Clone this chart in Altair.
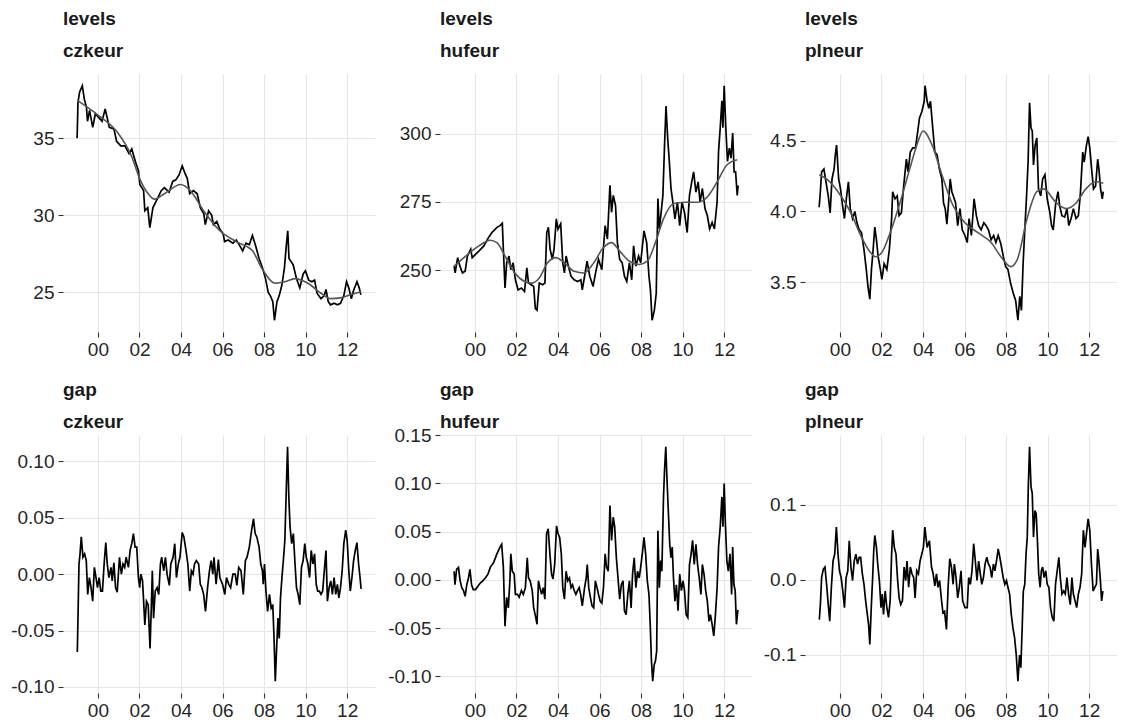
import altair as alt
import pandas as pd

# ---------------- levels: czkeur ----------------
cz_t = [1999.00, 1999.04, 1999.12, 1999.25, 1999.35, 1999.45, 1999.50, 1999.60, 1999.75, 1999.88,
        2000.00, 2000.20, 2000.35, 2000.55, 2000.77, 2000.90, 2001.10, 2001.30, 2001.50, 2001.63,
        2001.80, 2001.95, 2002.02, 2002.20, 2002.26, 2002.40, 2002.50, 2002.65, 2002.80, 2003.05,
        2003.20, 2003.43, 2003.60, 2003.75, 2003.90, 2004.06, 2004.20, 2004.30, 2004.42, 2004.60,
        2004.78, 2004.93, 2005.10, 2005.17, 2005.33, 2005.48, 2005.56, 2005.72, 2005.87, 2006.03,
        2006.10, 2006.27, 2006.50, 2006.66, 2006.80, 2006.97, 2007.13, 2007.29, 2007.44, 2007.60,
        2007.76, 2007.92, 2008.07, 2008.20, 2008.30, 2008.42, 2008.50, 2008.62, 2008.73, 2008.86,
        2008.98, 2009.06, 2009.14, 2009.20, 2009.30, 2009.40, 2009.56, 2009.72, 2009.88, 2009.99,
        2010.15, 2010.30, 2010.43, 2010.55, 2010.74, 2010.90, 2010.98, 2011.09, 2011.20, 2011.37,
        2011.53, 2011.68, 2011.84, 2011.97, 2012.08, 2012.20, 2012.30, 2012.47, 2012.58, 2012.66]
cz_v = [35.0, 37.3, 38.0, 38.4, 37.5, 37.0, 36.1, 36.8, 35.7, 36.6,
        36.4, 36.1, 36.9, 35.7, 35.6, 34.8, 34.5, 34.5, 34.0, 34.3,
        33.5, 32.9, 32.0, 31.6, 30.3, 30.5, 29.2, 30.5, 30.9, 31.6,
        31.8, 31.5, 32.2, 32.3, 32.6, 33.2, 32.7, 32.4, 31.4, 31.6,
        31.4, 30.5, 30.1, 29.4, 30.3, 30.0, 29.4, 29.6, 29.1, 28.8,
        28.3, 28.4, 28.2, 28.4, 28.1, 27.7, 28.2, 28.1, 28.7, 28.0,
        27.2, 26.6, 25.9, 25.0, 24.8, 24.4, 23.2, 24.4, 24.8, 25.5,
        26.6, 27.9, 29.0, 27.2, 27.0, 26.8, 25.9, 25.3, 26.2, 26.4,
        25.8, 25.7, 25.8, 24.95, 24.6, 24.8, 25.2, 24.4, 24.2, 24.3,
        24.2, 24.3, 24.8, 25.7, 25.3, 24.6, 25.1, 25.7, 25.3, 24.85]
cz_trend_t = [1999.01, 2000.00, 2000.93, 2001.63, 2002.02, 2002.42, 2002.73, 2003.20, 2003.98, 2004.45,
              2005.09, 2005.87, 2006.66, 2007.44, 2007.92, 2008.54, 2009.01, 2009.49, 2010.11, 2010.74,
              2011.21, 2011.68, 2012.15, 2012.66]
cz_trend_v = [37.45, 36.5, 35.4, 33.8, 32.35, 31.4, 31.05, 31.4, 32.0, 31.6,
              30.3, 29.0, 28.3, 27.7, 26.5, 25.6, 25.7, 25.9, 25.6, 24.95,
              24.6, 24.65, 24.85, 25.05]

# ---------------- levels: hufeur ----------------
hu_t = [1999.00, 1999.05, 1999.17, 1999.28, 1999.40, 1999.53, 1999.64, 1999.80, 1999.87, 2000.03,
        2000.19, 2000.43, 2000.66, 2000.82, 2001.06, 2001.21, 2001.32, 2001.37, 2001.45, 2001.53,
        2001.64, 2001.73, 2001.84, 2001.95, 2002.08, 2002.24, 2002.39, 2002.50, 2002.58, 2002.71,
        2002.83, 2002.91, 2002.99, 2003.10, 2003.26, 2003.37, 2003.46, 2003.54, 2003.62, 2003.73,
        2003.81, 2003.92, 2004.00, 2004.13, 2004.23, 2004.31, 2004.39, 2004.50, 2004.63, 2004.78,
        2004.94, 2005.10, 2005.17, 2005.28, 2005.40, 2005.53, 2005.69, 2005.84, 2005.95, 2006.11,
        2006.27, 2006.38, 2006.50, 2006.58, 2006.66, 2006.77, 2006.86, 2006.97, 2007.09, 2007.20,
        2007.31, 2007.44, 2007.55, 2007.64, 2007.75, 2007.88, 2007.98, 2008.14, 2008.27, 2008.38,
        2008.45, 2008.53, 2008.64, 2008.73, 2008.81, 2008.88, 2008.95, 2009.05, 2009.13, 2009.20,
        2009.28, 2009.36, 2009.44, 2009.55, 2009.63, 2009.75, 2009.86, 2009.97, 2010.09, 2010.22,
        2010.33, 2010.44, 2010.53, 2010.64, 2010.75, 2010.84, 2010.95, 2011.08, 2011.19, 2011.30,
        2011.42, 2011.53, 2011.66, 2011.73, 2011.81, 2011.89, 2011.94, 2012.00, 2012.08, 2012.16,
        2012.25, 2012.33, 2012.41, 2012.48, 2012.55, 2012.63, 2012.67]
hu_v = [251.5, 249.0, 254.6, 251.5, 249.0, 249.6, 255.2, 257.7, 254.6, 255.8,
        257.0, 258.9, 262.0, 263.8, 265.7, 266.3, 267.2, 257.7, 243.5, 252.7,
        255.2, 250.2, 252.7, 246.5, 242.8, 243.5, 242.2, 250.9, 245.3, 244.7,
        244.1, 236.0, 235.4, 245.3, 244.7, 245.3, 263.8, 265.7, 257.7, 254.0,
        257.7, 268.8, 265.0, 267.0, 252.7, 249.0, 255.2, 251.5, 247.8, 246.5,
        245.9, 246.5, 242.8, 247.8, 253.3, 247.8, 244.1, 250.2, 254.0, 250.2,
        266.3, 261.4, 281.1, 271.2, 277.4, 273.7, 260.1, 254.0, 252.7, 247.8,
        245.9, 252.7, 246.5, 258.9, 251.5, 255.2, 252.7, 264.4, 260.1, 247.8,
        242.8, 231.7, 235.4, 241.6, 276.2, 265.1, 270.0, 277.4, 295.9, 310.1,
        298.4, 289.8, 279.9, 273.7, 268.8, 274.9, 266.3, 274.9, 271.2, 263.8,
        277.4, 282.3, 286.0, 278.6, 282.3, 274.9, 279.9, 272.5, 270.0, 265.1,
        267.5, 265.1, 274.9, 293.5, 302.1, 312.0, 302.1, 317.5, 302.1, 289.8,
        294.7, 291.0, 300.2, 286.0, 286.0, 277.4, 281.0]
hu_trend_t = [1999.00, 1999.56, 2000.19, 2000.74, 2001.06, 2001.45, 2001.92, 2002.39, 2002.71, 2003.10,
              2003.50, 2003.89, 2004.31, 2004.78, 2005.25, 2005.72, 2006.19, 2006.58, 2006.97, 2007.44,
              2007.91, 2008.30, 2008.69, 2009.08, 2009.55, 2010.09, 2010.72, 2011.19, 2011.66, 2012.13,
              2012.63]
hu_trend_v = [251.5, 255.2, 258.9, 261.0, 260.1, 255.2, 249.0, 245.9, 245.3, 247.2,
              252.7, 254.6, 252.7, 249.6, 249.0, 252.7, 258.3, 260.1, 257.0, 253.3,
              252.1, 253.3, 260.1, 268.8, 274.3, 274.9, 274.9, 276.8, 282.3, 288.5,
              290.4]

# ---------------- levels: plneur ----------------
pl_t = [1999.00, 1999.05, 1999.12, 1999.23, 1999.33, 1999.44, 1999.53, 1999.62, 1999.72, 1999.78,
        1999.84, 1999.94, 2000.03, 2000.13, 2000.22, 2000.31, 2000.41, 2000.50, 2000.61, 2000.72,
        2000.82, 2000.93, 2001.04, 2001.16, 2001.27, 2001.35, 2001.44, 2001.52, 2001.60, 2001.68,
        2001.76, 2001.84, 2001.95, 2002.02, 2002.13, 2002.26, 2002.38, 2002.49, 2002.54, 2002.65,
        2002.76, 2002.85, 2002.96, 2003.07, 2003.20, 2003.28, 2003.39, 2003.51, 2003.64, 2003.75,
        2003.83, 2003.95, 2004.06, 2004.10, 2004.20, 2004.28, 2004.36, 2004.47, 2004.57, 2004.68,
        2004.79, 2004.91, 2004.99, 2005.07, 2005.15, 2005.23, 2005.31, 2005.39, 2005.46, 2005.57,
        2005.67, 2005.78, 2005.89, 2006.02, 2006.13, 2006.22, 2006.33, 2006.46, 2006.57, 2006.68,
        2006.80, 2006.93, 2007.04, 2007.15, 2007.28, 2007.40, 2007.51, 2007.62, 2007.75, 2007.87,
        2007.98, 2008.09, 2008.22, 2008.35, 2008.46, 2008.57, 2008.66, 2008.74, 2008.82, 2008.90,
        2008.98, 2009.06, 2009.13, 2009.20, 2009.26, 2009.32, 2009.40, 2009.48, 2009.56, 2009.67,
        2009.76, 2009.87, 2009.98, 2010.11, 2010.19, 2010.27, 2010.39, 2010.50, 2010.58, 2010.69,
        2010.82, 2010.93, 2011.02, 2011.13, 2011.24, 2011.37, 2011.48, 2011.57, 2011.69, 2011.76,
        2011.87, 2011.95, 2012.03, 2012.13, 2012.21, 2012.31, 2012.41, 2012.47, 2012.55, 2012.63,
        2012.68]
pl_v = [4.03, 4.12, 4.28, 4.30, 4.21, 4.11, 3.99, 4.23, 4.30, 4.40,
        4.47, 4.23, 4.16, 4.04, 3.95, 4.09, 4.21, 4.02, 3.95, 4.00,
        3.92, 3.87, 3.85, 3.73, 3.59, 3.47, 3.38, 3.59, 3.73, 3.89,
        3.80, 3.68, 3.59, 3.52, 3.63, 3.59, 3.73, 3.95, 4.14, 4.09,
        4.11, 3.97, 3.99, 4.18, 4.37, 4.28, 4.42, 4.45, 4.45, 4.57,
        4.66, 4.71, 4.78, 4.89, 4.78, 4.73, 4.78, 4.59, 4.42, 4.40,
        4.30, 4.23, 4.06, 4.02, 3.91, 4.06, 4.23, 4.14, 4.11, 4.06,
        3.90, 4.02, 3.87, 3.83, 3.78, 3.95, 3.83, 4.09, 3.97, 3.90,
        3.87, 3.92, 3.90, 3.87, 3.80, 3.83, 3.78, 3.83, 3.77, 3.68,
        3.61, 3.59, 3.49, 3.42, 3.37, 3.23, 3.40, 3.30, 3.63, 3.87,
        4.09, 4.35, 4.77, 4.59, 4.57, 4.33, 4.47, 4.52, 4.16, 4.11,
        4.23, 4.26, 4.09, 3.99, 3.90, 3.87, 4.06, 4.14, 4.04, 3.97,
        3.96, 4.02, 3.90, 3.95, 4.02, 3.95, 3.97, 4.11, 4.42, 4.35,
        4.47, 4.53, 4.45, 4.28, 4.16, 4.18, 4.37, 4.30, 4.16, 4.09,
        4.14]
pl_trend_t = [1999.01, 1999.44, 2000.00, 2000.53, 2001.00, 2001.47, 2001.71, 2002.02, 2002.42, 2002.89,
              2003.36, 2003.75, 2004.00, 2004.44, 2004.91, 2005.39, 2006.02, 2006.65, 2007.28, 2007.75,
              2008.22, 2008.54, 2009.01, 2009.48, 2009.80, 2010.43, 2010.90, 2011.37, 2011.84, 2012.31,
              2012.68]
pl_trend_v = [4.26, 4.22, 4.12, 3.99, 3.83, 3.71, 3.68, 3.71, 3.85, 4.06,
              4.30, 4.49, 4.57, 4.47, 4.26, 4.06, 3.92, 3.85, 3.78, 3.68,
              3.61, 3.66, 3.95, 4.14, 4.16, 4.06, 4.02, 4.06, 4.16, 4.21,
              4.20]

# ---------------- gap: czkeur ----------------
czg_t = [1999.01, 1999.09, 1999.14, 1999.20, 1999.28, 1999.36, 1999.44, 1999.51, 1999.59, 1999.67,
         1999.75, 1999.83, 1999.91, 1999.98, 2000.06, 2000.14, 2000.22, 2000.30, 2000.38, 2000.45,
         2000.53, 2000.63, 2000.69, 2000.77, 2000.85, 2000.93, 2001.04, 2001.13, 2001.21, 2001.29,
         2001.36, 2001.47, 2001.55, 2001.63, 2001.71, 2001.79, 2001.87, 2001.95, 2002.01, 2002.07,
         2002.15, 2002.26, 2002.34, 2002.42, 2002.51, 2002.57, 2002.62, 2002.68, 2002.76, 2002.85,
         2002.93, 2003.01, 2003.07, 2003.17, 2003.25, 2003.33, 2003.44, 2003.51, 2003.62, 2003.70,
         2003.78, 2003.87, 2003.95, 2004.06, 2004.14, 2004.24, 2004.33, 2004.42, 2004.50, 2004.58,
         2004.65, 2004.74, 2004.85, 2004.93, 2005.01, 2005.09, 2005.18, 2005.28, 2005.37, 2005.45,
         2005.53, 2005.59, 2005.69, 2005.80, 2005.87, 2006.00, 2006.11, 2006.19, 2006.30, 2006.39,
         2006.50, 2006.61, 2006.69, 2006.78, 2006.89, 2007.00, 2007.10, 2007.18, 2007.29, 2007.40,
         2007.49, 2007.57, 2007.65, 2007.76, 2007.84, 2007.92, 2007.96, 2008.02, 2008.09, 2008.17,
         2008.26, 2008.34, 2008.42, 2008.48, 2008.54, 2008.61, 2008.67, 2008.73, 2008.79, 2008.86,
         2008.94, 2009.00, 2009.06, 2009.13, 2009.19, 2009.25, 2009.33, 2009.41, 2009.49, 2009.56,
         2009.64, 2009.72, 2009.80, 2009.88, 2009.96, 2010.03, 2010.11, 2010.19, 2010.27, 2010.35,
         2010.43, 2010.51, 2010.58, 2010.66, 2010.74, 2010.82, 2010.90, 2010.98, 2011.05, 2011.13,
         2011.21, 2011.29, 2011.37, 2011.45, 2011.53, 2011.60, 2011.68, 2011.76, 2011.84, 2011.93,
         2012.00, 2012.08, 2012.15, 2012.23, 2012.31, 2012.39, 2012.47, 2012.55, 2012.62, 2012.67]
czg_v = [-0.069, 0.009, 0.018, 0.033, 0.015, 0.018, 0.012, -0.018, -0.003, -0.012,
         -0.024, 0.006, -0.003, -0.012, -0.003, -0.015, -0.015, 0.009, 0.028, 0.009,
         -0.003, 0.006, -0.006, 0.010, -0.012, -0.016, 0.015, 0.000, 0.009, 0.006,
         0.015, 0.006, 0.021, 0.027, 0.036, 0.024, 0.024, -0.003, -0.012, 0.000,
         -0.006, -0.045, -0.024, -0.027, -0.066, -0.030, 0.003, -0.039, -0.015, -0.012,
         -0.018, 0.009, 0.015, 0.003, 0.015, 0.000, -0.010, 0.009, 0.015, 0.027,
         -0.003, 0.009, 0.015, 0.037, 0.033, 0.021, 0.009, -0.015, 0.003, 0.000,
         0.009, 0.012, 0.009, -0.009, -0.012, -0.018, -0.033, -0.012, 0.003, 0.012,
         0.000, 0.015, -0.009, 0.013, -0.003, -0.009, -0.018, -0.003, -0.009, -0.012,
         0.000, 0.000, -0.010, 0.006, 0.003, -0.018, 0.012, 0.015, 0.024, 0.039,
         0.049, 0.036, 0.033, 0.024, 0.009, 0.003, -0.009, 0.009, -0.015, -0.033,
         -0.018, -0.030, -0.027, -0.057, -0.095, -0.063, -0.039, -0.057, -0.021, -0.003,
         0.015, 0.030, 0.069, 0.113, 0.069, 0.042, 0.027, 0.036, 0.009, -0.012,
         -0.018, -0.027, 0.006, 0.012, 0.027, 0.015, 0.009, -0.003, 0.021, 0.009,
         0.018, -0.009, -0.015, -0.015, -0.018, -0.015, 0.003, 0.021, -0.024, -0.012,
         -0.006, -0.018, -0.003, -0.018, -0.009, -0.021, -0.012, 0.003, 0.027, 0.039,
         0.030, 0.003, -0.015, -0.003, 0.012, 0.021, 0.028, 0.009, -0.003, -0.013]

# ---------------- gap: hufeur ----------------
hug_t = [1999.00, 1999.04, 1999.12, 1999.21, 1999.29, 1999.37, 1999.45, 1999.53, 1999.61, 1999.69,
         1999.76, 1999.84, 1999.92, 2000.03, 2000.16, 2000.27, 2000.38, 2000.50, 2000.63, 2000.74,
         2000.90, 2001.06, 2001.21, 2001.29, 2001.37, 2001.45, 2001.53, 2001.61, 2001.69, 2001.73,
         2001.80, 2001.89, 2001.95, 2002.05, 2002.13, 2002.24, 2002.33, 2002.43, 2002.52, 2002.58,
         2002.66, 2002.76, 2002.83, 2002.93, 2002.99, 2003.06, 2003.13, 2003.21, 2003.29, 2003.37,
         2003.45, 2003.53, 2003.61, 2003.69, 2003.76, 2003.84, 2003.93, 2004.00, 2004.08, 2004.16,
         2004.23, 2004.31, 2004.39, 2004.47, 2004.55, 2004.63, 2004.70, 2004.78, 2004.86, 2004.94,
         2005.02, 2005.09, 2005.17, 2005.28, 2005.36, 2005.41, 2005.48, 2005.56, 2005.64, 2005.72,
         2005.80, 2005.88, 2005.95, 2006.03, 2006.11, 2006.19, 2006.27, 2006.34, 2006.42, 2006.50,
         2006.58, 2006.66, 2006.73, 2006.81, 2006.89, 2006.97, 2007.05, 2007.13, 2007.20, 2007.28,
         2007.36, 2007.44, 2007.52, 2007.59, 2007.67, 2007.75, 2007.83, 2007.91, 2007.98, 2008.06,
         2008.14, 2008.22, 2008.30, 2008.38, 2008.44, 2008.50, 2008.56, 2008.63, 2008.69, 2008.75,
         2008.81, 2008.88, 2008.94, 2009.00, 2009.08, 2009.13, 2009.19, 2009.25, 2009.31, 2009.38,
         2009.44, 2009.50, 2009.56, 2009.63, 2009.70, 2009.78, 2009.86, 2009.94, 2010.02, 2010.09,
         2010.17, 2010.25, 2010.33, 2010.41, 2010.48, 2010.56, 2010.64, 2010.72, 2010.80, 2010.88,
         2010.95, 2011.03, 2011.11, 2011.19, 2011.27, 2011.34, 2011.42, 2011.50, 2011.58, 2011.66,
         2011.73, 2011.81, 2011.89, 2011.94, 2012.00, 2012.06, 2012.13, 2012.20, 2012.28, 2012.36,
         2012.41, 2012.47, 2012.53, 2012.59, 2012.66]
hug_v = [0.009, -0.005, 0.011, 0.013, -0.001, -0.008, -0.011, -0.017, -0.005, 0.002,
         0.011, -0.005, -0.010, -0.010, -0.006, -0.003, -0.001, 0.002, 0.006, 0.013,
         0.018, 0.027, 0.034, 0.037, 0.013, -0.048, -0.018, -0.029, 0.002, 0.027,
         0.009, 0.006, -0.015, -0.015, -0.018, -0.011, -0.015, -0.008, 0.023, 0.002,
         -0.001, -0.011, -0.029, -0.039, -0.046, -0.001, -0.008, -0.015, -0.008, -0.020,
         0.048, 0.053, 0.027, 0.006, 0.001, 0.016, 0.056, 0.048, 0.044, 0.027,
         -0.008, -0.020, 0.009, -0.001, 0.002, -0.008, -0.005, -0.011, -0.015, -0.011,
         -0.008, -0.015, -0.027, -0.008, 0.002, 0.016, -0.008, -0.018, -0.027, -0.029,
         -0.001, -0.008, -0.015, -0.022, -0.024, -0.008, 0.027, 0.013, 0.009, 0.077,
         0.041, 0.065, 0.055, 0.023, 0.002, -0.020, -0.005, -0.001, -0.032, -0.036,
         -0.015, -0.001, -0.029, 0.006, 0.023, -0.008, 0.009, 0.002, 0.013, 0.027,
         0.044, 0.027, -0.001, -0.015, -0.046, -0.084, -0.105, -0.088, -0.084, -0.074,
         0.051, -0.008, 0.020, 0.009, 0.086, 0.114, 0.138, 0.103, 0.072, 0.037,
         0.023, 0.034, 0.002, -0.022, -0.005, -0.032, 0.006, -0.011, -0.001, -0.011,
         -0.036, -0.039, 0.016, 0.027, 0.041, 0.016, 0.037, 0.016, 0.002, -0.015,
         0.016, 0.006, -0.011, -0.022, -0.043, -0.036, -0.046, -0.058, -0.036, -0.008,
         0.034, 0.055, 0.086, 0.055, 0.100, 0.058, 0.020, 0.009, 0.027, -0.015,
         0.034, -0.005, -0.011, -0.046, -0.031]

# ---------------- gap: plneur ----------------
plg_t = [1999.01, 1999.06, 1999.12, 1999.20, 1999.28, 1999.36, 1999.44, 1999.51, 1999.59, 1999.67,
         1999.75, 1999.83, 1999.91, 1999.98, 2000.06, 2000.14, 2000.22, 2000.30, 2000.38, 2000.45,
         2000.53, 2000.61, 2000.69, 2000.77, 2000.85, 2000.93, 2001.00, 2001.08, 2001.16, 2001.24,
         2001.32, 2001.38, 2001.44, 2001.51, 2001.57, 2001.63, 2001.68, 2001.76, 2001.82, 2001.90,
         2001.98, 2002.04, 2002.10, 2002.18, 2002.26, 2002.34, 2002.42, 2002.49, 2002.54, 2002.62,
         2002.70, 2002.78, 2002.85, 2002.93, 2003.01, 2003.09, 2003.17, 2003.23, 2003.31, 2003.39,
         2003.47, 2003.55, 2003.62, 2003.70, 2003.78, 2003.86, 2003.94, 2004.02, 2004.09, 2004.20,
         2004.31, 2004.41, 2004.49, 2004.57, 2004.65, 2004.72, 2004.80, 2004.88, 2004.96, 2005.04,
         2005.13, 2005.21, 2005.29, 2005.37, 2005.45, 2005.51, 2005.59, 2005.67, 2005.75, 2005.83,
         2005.91, 2006.02, 2006.13, 2006.20, 2006.28, 2006.36, 2006.44, 2006.52, 2006.60, 2006.68,
         2006.76, 2006.83, 2006.91, 2006.99, 2007.07, 2007.15, 2007.23, 2007.31, 2007.39, 2007.46,
         2007.54, 2007.62, 2007.70, 2007.78, 2007.86, 2007.94, 2008.02, 2008.09, 2008.17, 2008.25,
         2008.33, 2008.41, 2008.49, 2008.57, 2008.65, 2008.71, 2008.77, 2008.83, 2008.90, 2008.96,
         2009.02, 2009.07, 2009.13, 2009.20, 2009.26, 2009.32, 2009.39, 2009.45, 2009.51, 2009.57,
         2009.64, 2009.70, 2009.76, 2009.83, 2009.91, 2009.98, 2010.06, 2010.14, 2010.22, 2010.30,
         2010.38, 2010.46, 2010.54, 2010.61, 2010.69, 2010.77, 2010.85, 2010.93, 2011.01, 2011.09,
         2011.17, 2011.24, 2011.32, 2011.40, 2011.48, 2011.56, 2011.64, 2011.72, 2011.80, 2011.87,
         2011.95, 2012.03, 2012.11, 2012.19, 2012.27, 2012.35, 2012.41, 2012.47, 2012.54, 2012.60,
         2012.66]
plg_v = [-0.053, -0.033, 0.003, 0.014, 0.017, -0.006, -0.033, -0.055, -0.010, 0.025,
         0.034, 0.070, 0.034, 0.012, 0.003, -0.015, -0.037, 0.003, 0.012, 0.052,
         0.017, -0.001, 0.025, 0.034, 0.021, 0.030, 0.030, 0.008, -0.006, -0.028,
         -0.046, -0.059, -0.086, -0.037, -0.001, 0.039, 0.059, 0.043, 0.021, -0.001,
         -0.037, -0.019, -0.046, -0.015, -0.037, -0.050, -0.028, 0.034, 0.066, 0.043,
         0.034, -0.001, -0.024, -0.033, -0.028, 0.017, -0.001, 0.025, -0.010, 0.017,
         0.008, 0.003, -0.024, 0.012, 0.008, 0.025, 0.034, 0.043, 0.070, 0.043,
         0.052, 0.017, 0.008, -0.008, 0.008, -0.010, -0.001, -0.024, -0.044, -0.042,
         -0.066, -0.010, 0.028, 0.017, -0.006, 0.021, 0.003, -0.024, -0.010, 0.012,
         -0.028, -0.037, -0.037, 0.003, -0.006, 0.012, 0.048, 0.025, -0.001, 0.025,
         0.008, -0.006, 0.003, 0.021, 0.030, 0.021, 0.017, 0.003, 0.021, 0.012,
         0.025, 0.041, 0.030, 0.017, 0.003, -0.006, -0.001, -0.010, -0.019, -0.046,
         -0.064, -0.077, -0.100, -0.135, -0.100, -0.117, -0.068, -0.015, -0.006, 0.034,
         0.057, 0.124, 0.177, 0.124, 0.115, 0.057, 0.092, 0.088, 0.052, 0.008,
         -0.010, 0.012, 0.017, 0.003, 0.012, -0.006, -0.010, -0.037, -0.050, -0.055,
         -0.006, 0.012, 0.030, 0.003, -0.019, -0.015, -0.019, 0.003, -0.019, -0.033,
         0.003, -0.019, -0.028, -0.037, -0.019, -0.010, 0.008, 0.066, 0.043, 0.061,
         0.081, 0.066, 0.021, -0.015, -0.010, -0.006, 0.041, 0.025, -0.001, -0.028,
         -0.015]

# ---------------- panel definitions ----------------
X_DOMAIN = [1998.32, 2013.34]
X_TICKS = [2000, 2002, 2004, 2006, 2008, 2010, 2012]
W, H = 312, 258
FONT = "Liberation Sans"


def panel(kind, name, t, v, ticks, fmt, extent, toff, trend_t=None, trend_v=None):
    lo, hi = min(v), max(v)
    pad = 0.05 * (hi - lo)
    df = pd.DataFrame({"t": t, "v": v})
    x = alt.X("t:Q",
              scale=alt.Scale(domain=X_DOMAIN, nice=False, zero=False),
              axis=alt.Axis(values=X_TICKS, title=None,
                            labelExpr="substring(toString(datum.value), 2, 4)"))
    y = alt.Y("v:Q",
              scale=alt.Scale(domain=[lo - pad, hi + pad], nice=False, zero=False),
              axis=alt.Axis(values=ticks, title=None,
                            labelExpr="replace(format(datum.value, '" + fmt + "'), '\u2212', '-')",
                            minExtent=extent, maxExtent=extent))
    layers = [alt.Chart(df).mark_line(color="#000000", strokeWidth=1.7).encode(x=x, y=y)]
    if trend_t is not None:
        tdf = pd.DataFrame({"t": trend_t, "v": trend_v})
        layers.append(alt.Chart(tdf).mark_line(color="#555555", strokeWidth=1.6,
                                               interpolate="monotone").encode(x="t:Q", y="v:Q"))
    ch = alt.layer(*layers).properties(
        width=W, height=H,
        title=alt.TitleParams(text=[kind, name], anchor="start", frame="group", fontSize=19,
                              fontWeight="bold", font=FONT, color="#1a1a1a",
                              lineHeight=32, offset=toff))
    return ch


p1 = panel("levels", "czkeur", cz_t, cz_v, [25, 30, 35], "d", 55, 13, cz_trend_t, cz_trend_v)
p2 = panel("levels", "hufeur", hu_t, hu_v, [250, 275, 300], "d", 55, 13, hu_trend_t, hu_trend_v)
p3 = panel("levels", "plneur", pl_t, pl_v, [3.5, 4.0, 4.5], ".1f", 43, 13, pl_trend_t, pl_trend_v)
p4 = panel("gap", "czkeur", czg_t, czg_v, [-0.10, -0.05, 0.0, 0.05, 0.10], ".2f", 55, 3)
p5 = panel("gap", "hufeur", hug_t, hug_v, [-0.10, -0.05, 0.0, 0.05, 0.10, 0.15], ".2f", 55, -6)
p6 = panel("gap", "plneur", plg_t, plg_v, [-0.1, 0.0, 0.1], ".1f", 43, 3)

chart = alt.concat(p1, p2, p3, p4, p5, p6, columns=3, align="each",
                   spacing={"row": 22, "column": 10}).properties(
    padding={"left": 0, "top": 2, "right": 0, "bottom": 0}
).configure_view(stroke=None).configure_axis(
    domain=False,
    grid=True,
    gridColor="#e6e6e6",
    gridWidth=1.1,
    tickColor="#333333",
    tickSize=5,
    tickWidth=1.1,
    labelPadding=4,
    labelFont=FONT,
    labelFontSize=19,
    labelColor="#262626",
).configure_axisX(labelPadding=3)

chart.save("out.html", embed_options={"renderer": "svg", "actions": False})
